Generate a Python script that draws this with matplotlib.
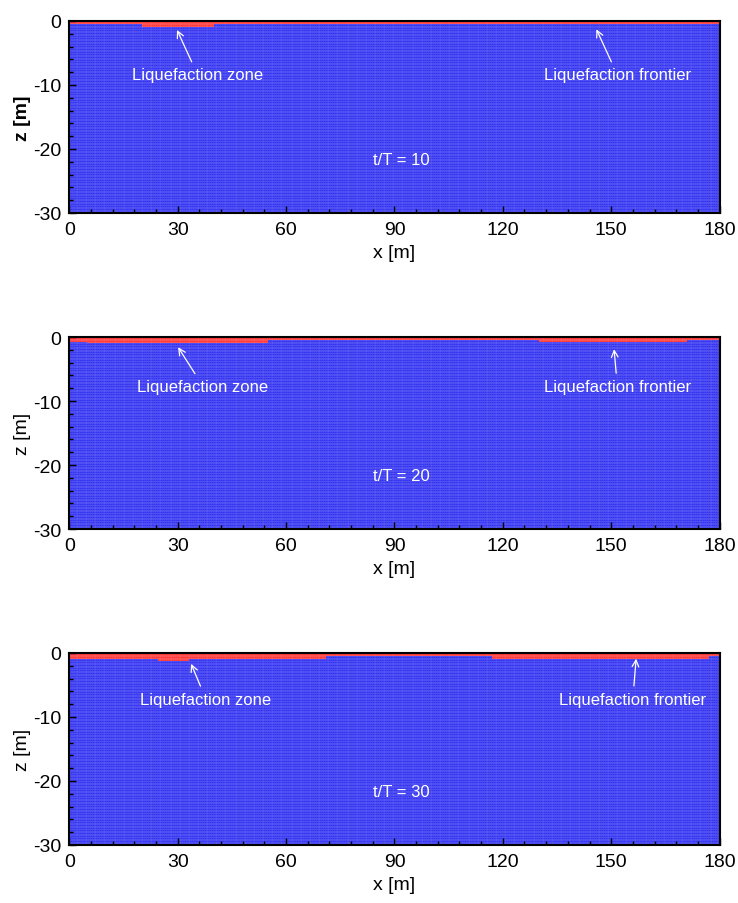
import numpy as np
import matplotlib.pyplot as plt
from matplotlib.colors import ListedColormap

plt.rcParams['font.family'] = ['Liberation Sans', 'DejaVu Sans']
plt.rcParams['axes.unicode_minus'] = False

# Liquefied depth below the ground surface [m], piecewise constant between x breakpoints
times = [10, 20, 30]
liq_x = [
    [0, 20, 40, 180],
    [0, 5, 55, 130, 171, 180],
    [0, 24.5, 33, 71, 117, 177, 180],
]
liq_depth = [
    [0.5, 1.0, 0.5],
    [0.75, 1.0, 0.5, 0.75, 0.5],
    [1.0, 1.25, 1.0, 0.5, 1.0, 0.5],
]

# annotation positions (text, arrow head) in data units
zone_text = [(35.5, -8.4), (37.0, -7.7), (37.8, -7.2)]
zone_head = [(29.8, -1.4), (30.1, -1.6), (33.7, -1.7)]
front_text = [(151.7, -8.4), (151.7, -7.7), (156.0, -7.2)]
front_head = [(145.9, -1.3), (150.8, -1.9), (156.9, -0.9)]

# finite element mesh
dx, dz = 0.5, 0.25
xe = np.arange(0, 180 + dx / 2, dx)
ze = np.arange(-30, 0 + dz / 2, dz)
xc = 0.5 * (xe[1:] + xe[:-1])
zc = 0.5 * (ze[1:] + ze[:-1])

cmap = ListedColormap(['#2424f2', '#ff2828'])

fig = plt.figure(figsize=(7.38, 9.04), dpi=100)
bottoms = [0.7633, 0.4137, 0.0642]

for i, t in enumerate(times):
    ax = fig.add_axes([0.094, bottoms[i], 0.881, 0.2124])
    idx = np.searchsorted(liq_x[i], xc, side='right') - 1
    idx = np.clip(idx, 0, len(liq_depth[i]) - 1)
    depth = np.array(liq_depth[i])[idx]
    state = (zc[:, None] > -depth[None, :]).astype(float)
    ax.pcolormesh(xe, ze, state, cmap=cmap, vmin=0, vmax=1,
                  edgecolors=(1, 1, 1, 0.07), linewidth=0.12)

    ax.set_xlim(0, 180)
    ax.set_ylim(-30, 0)
    ax.set_xticks(np.arange(0, 181, 30))
    ax.set_xticks(np.arange(0, 181, 6), minor=True)
    ax.set_yticks(np.arange(-30, 1, 10))
    ax.set_yticks(np.arange(-30, 1, 2), minor=True)
    ax.tick_params(which='both', direction='in', top=False, right=False,
                   labelsize=14, width=1.0, pad=6)
    ax.tick_params(which='major', length=5)
    ax.tick_params(which='minor', length=3)
    for s in ax.spines.values():
        s.set_linewidth(1.5)

    ax.set_xlabel('x [m]', fontsize=14, labelpad=4)
    if i == 0:
        ax.set_ylabel('z [m]', fontsize=14, fontweight='bold', labelpad=1)
    else:
        ax.set_ylabel('z [m]', fontsize=14, labelpad=1)

    arrow = dict(arrowstyle='->', color='white', lw=0.9, shrinkA=2, shrinkB=0)
    ax.annotate('Liquefaction zone', xy=zone_head[i], xytext=zone_text[i],
                color='white', fontsize=12, ha='center', va='center',
                arrowprops=arrow)
    ax.annotate('Liquefaction frontier', xy=front_head[i], xytext=front_text[i],
                color='white', fontsize=12, ha='center', va='center',
                arrowprops=arrow)
    ax.text(92, -21.6, f't/T = {t}', color='white', fontsize=12,
            ha='center', va='center')

fig.savefig('out.png', dpi=100)
